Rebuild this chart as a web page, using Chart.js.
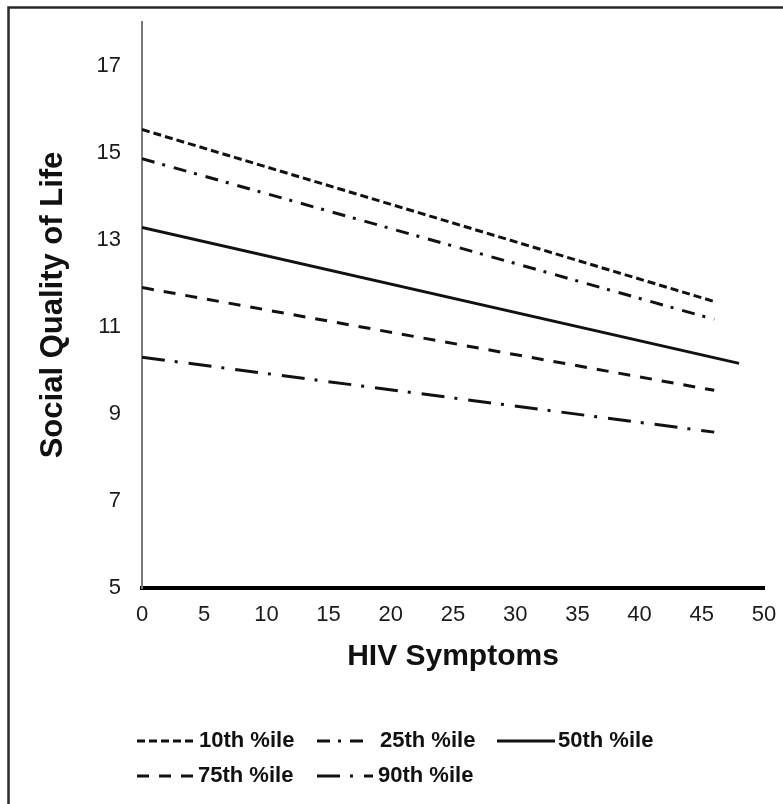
<!DOCTYPE html>
<html>
<head>
<meta charset="utf-8">
<title>Social Quality of Life by HIV Symptoms</title>
<script src="https://cdn.jsdelivr.net/npm/chart.js@4.4.1/dist/chart.umd.min.js"></script>
<style>
  html, body { margin: 0; padding: 0; background: #fff; }
  #wrap { width: 783px; height: 804px; position: relative; }
</style>
</head>
<body>
<div id="wrap"><canvas id="chart" width="783" height="804"></canvas></div>
<script>
// Percentile groups of the moderator
const seriesNames = ['10th %ile', '25th %ile', '50th %ile', '75th %ile', '90th %ile'];
// HIV symptom score at the start and end of each simple-slope line
const symptomsStart = [0, 0, 0, 0, 0];
const symptomsEnd = [46, 46, 48, 46, 46];
// Predicted social quality of life at those symptom scores
const qolStart = [15.53, 14.86, 13.28, 11.90, 10.30];
const qolEnd = [11.58, 11.17, 10.16, 9.54, 8.58];
// Axis tick labels
const xTickLabels = [0, 5, 10, 15, 20, 25, 30, 35, 40, 45, 50];
const yTickLabels = [5, 7, 9, 11, 13, 15, 17];

// Line styles per series
const dashStyles = [[8, 4], [13, 8, 3, 9], [], [12, 10], [23, 10, 3, 11]];
const lineWidths = [3, 3, 3, 3, 3];

const FONT = '"Liberation Sans", Arial, Helvetica, sans-serif';

const datasets = seriesNames.map((name, i) => ({
  label: name,
  data: [
    { x: symptomsStart[i], y: qolStart[i] },
    { x: symptomsEnd[i], y: qolEnd[i] }
  ],
  borderColor: '#111',
  backgroundColor: '#111',
  borderWidth: lineWidths[i],
  borderDash: dashStyles[i],
  borderCapStyle: 'butt',
  pointRadius: 0,
  pointHoverRadius: 0,
  tension: 0,
  fill: false
}));

// Outer frame around the figure
const framePlugin = {
  id: 'frame',
  beforeDraw(chart) {
    const ctx = chart.ctx;
    ctx.save();
    ctx.strokeStyle = '#2a2a2a';
    ctx.lineWidth = 2.5;
    ctx.beginPath();
    ctx.moveTo(8.5, chart.height);
    ctx.lineTo(8.5, 7.5);
    ctx.lineTo(chart.width, 7.5);
    ctx.stroke();
    ctx.restore();
  }
};

// Two-row legend with line samples under the plot
const lineLegendPlugin = {
  id: 'lineLegend',
  afterDraw(chart, args, opts) {
    const ctx = chart.ctx;
    const items = chart.data.datasets;
    ctx.save();
    ctx.font = 'bold ' + opts.fontSize + 'px ' + FONT;
    ctx.fillStyle = '#111';
    ctx.textBaseline = 'middle';
    ctx.textAlign = 'left';
    items.forEach((ds, i) => {
      const col = i % opts.perRow;
      const row = Math.floor(i / opts.perRow);
      const x = opts.columns[col];
      const y = opts.rows[row];
      const w = opts.sampleWidths[i];
      ctx.strokeStyle = ds.borderColor;
      ctx.lineWidth = ds.borderWidth;
      ctx.lineCap = 'butt';
      ctx.setLineDash(ds.borderDash || []);
      ctx.beginPath();
      ctx.moveTo(x, y);
      ctx.lineTo(x + w, y);
      ctx.stroke();
      ctx.setLineDash([]);
      ctx.fillText(ds.label, x + w + opts.textGaps[i], y);
    });
    ctx.restore();
  }
};

new Chart(document.getElementById('chart'), {
  type: 'line',
  data: { datasets },
  plugins: [framePlugin, lineLegendPlugin],
  options: {
    responsive: false,
    animation: false,
    events: [],
    layout: { padding: { left: 0, right: 19, top: 22, bottom: 129 } },
    plugins: {
      legend: { display: false },
      tooltip: { enabled: false },
      lineLegend: {
        fontSize: 22,
        perRow: 3,
        columns: [137, 317, 497],
        rows: [741, 776],
        sampleWidths: [56, 46, 58, 56, 56],
        textGaps: [6, 17, 3, 5, 5]
      }
    },
    scales: {
      x: {
        type: 'linear',
        min: 0,
        max: 50,
        afterBuildTicks(scale) { scale.ticks = xTickLabels.map(v => ({ value: v })); },
        afterFit(scale) { scale.height = 87; scale.paddingLeft = 0; scale.paddingRight = 0; },
        grid: { display: false, drawTicks: false, tickLength: 0 },
        border: { display: true, color: '#000', width: 4 },
        ticks: {
          padding: 14,
          color: '#1a1a1a',
          font: { family: FONT, size: 22 },
          maxRotation: 0,
          autoSkip: false
        },
        title: {
          display: true,
          text: 'HIV Symptoms',
          color: '#111',
          font: { family: FONT, size: 30, weight: 'bold' },
          padding: { top: 0, bottom: 0 }
        }
      },
      y: {
        type: 'linear',
        min: 5,
        max: 18,
        afterBuildTicks(scale) { scale.ticks = yTickLabels.map(v => ({ value: v })); },
        afterFit(scale) { scale.width = 142; scale.paddingTop = 0; scale.paddingBottom = 0; },
        grid: { display: false, drawTicks: false, tickLength: 0 },
        border: { display: true, color: '#7a7a7a', width: 2 },
        ticks: {
          padding: 21,
          color: '#1a1a1a',
          font: { family: FONT, size: 22 },
          autoSkip: false
        },
        title: {
          display: true,
          text: 'Social Quality of Life',
          color: '#111',
          font: { family: FONT, size: 31, weight: 'bold' },
          padding: { top: 35, bottom: 0 }
        }
      }
    }
  }
});
</script>
</body>
</html>
